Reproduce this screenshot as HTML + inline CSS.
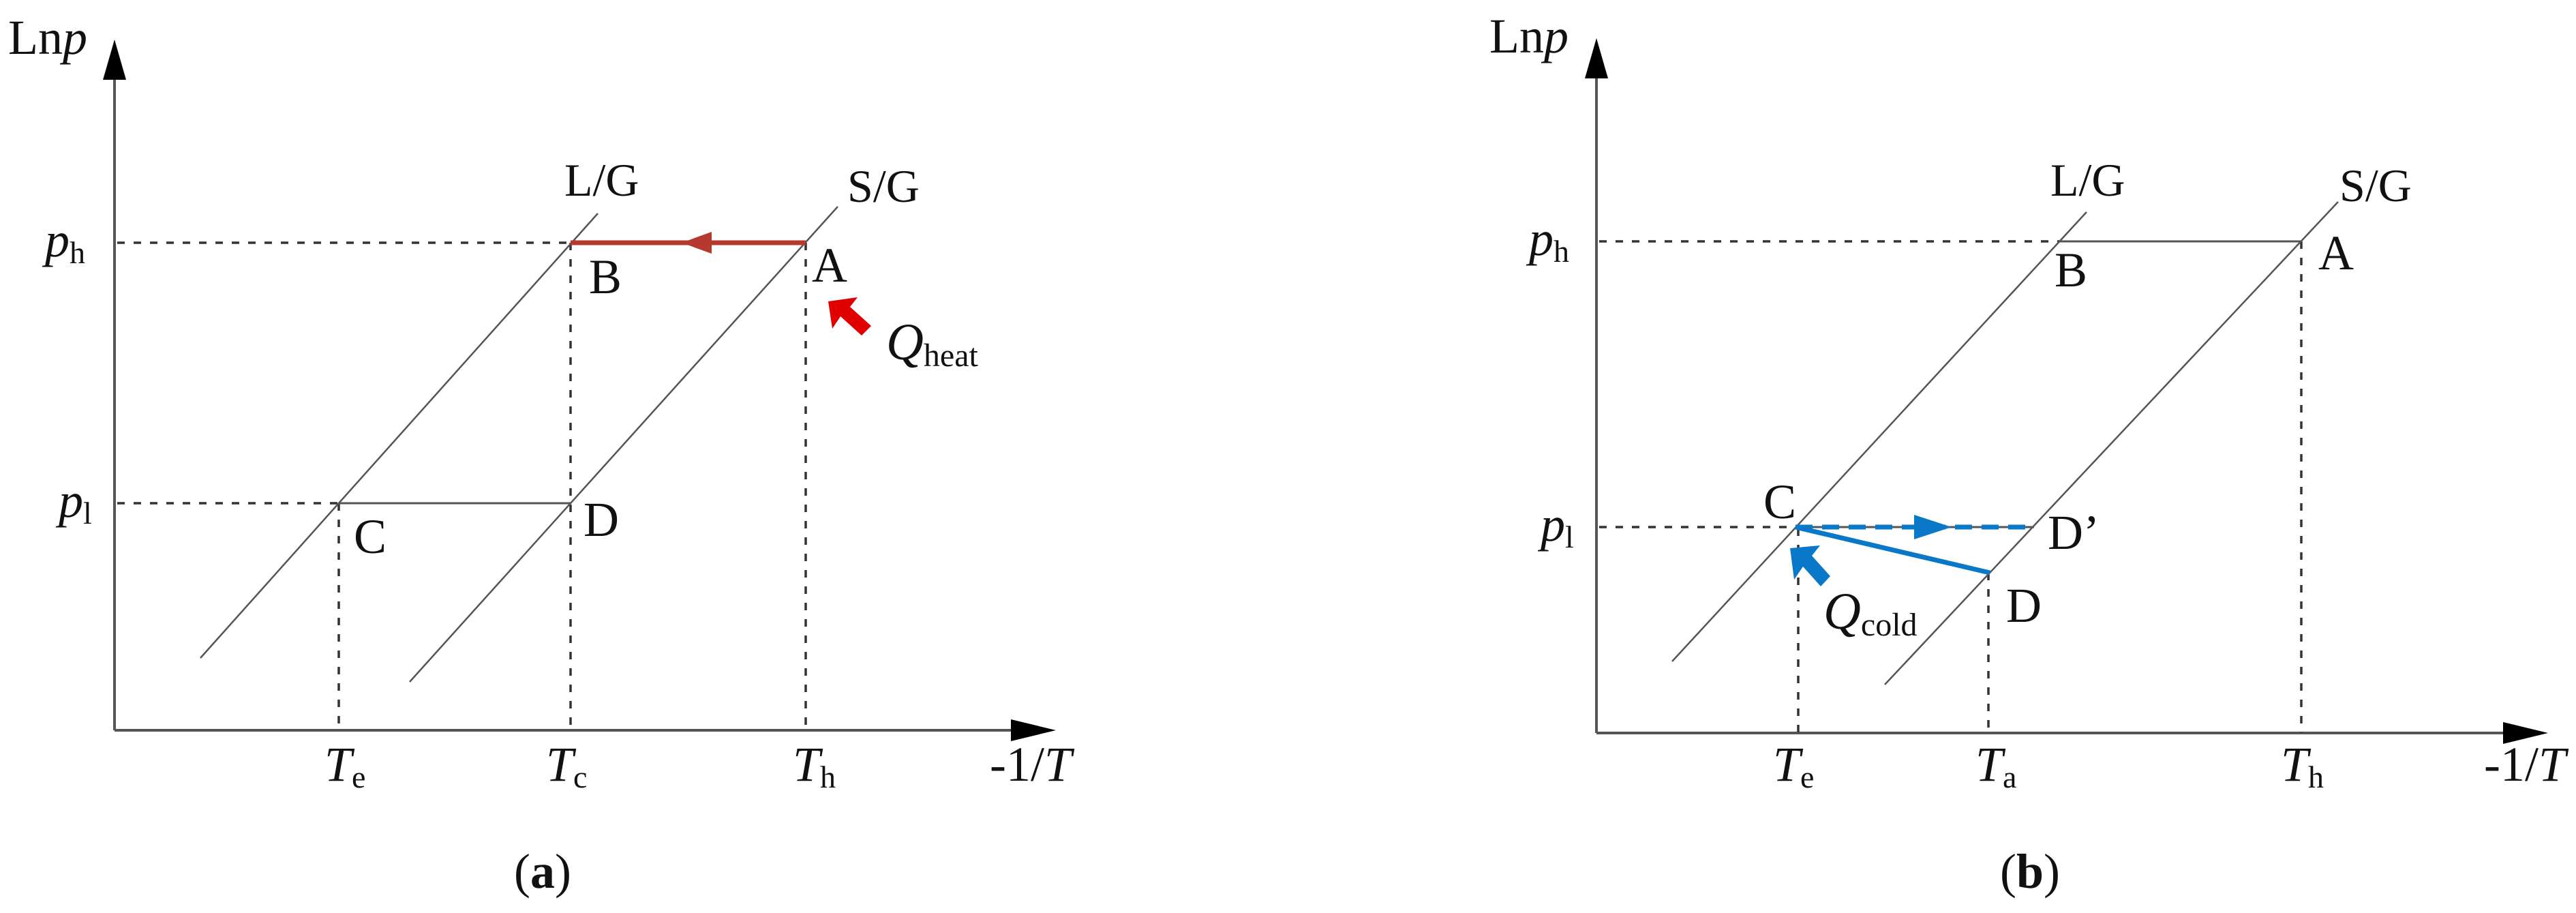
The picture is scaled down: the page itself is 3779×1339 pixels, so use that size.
<!DOCTYPE html>
<html><head><meta charset="utf-8"><style>
html,body{margin:0;padding:0;background:#fff}
svg{display:block}
text{font-family:"Liberation Serif",serif;fill:#111}
</style></head><body>
<svg width="3779" height="1339" viewBox="0 0 3779 1339" xmlns="http://www.w3.org/2000/svg">
<g stroke="#555" fill="none">
<line x1="168" y1="1071" x2="168" y2="110" stroke-width="4"/>
<line x1="168" y1="1071" x2="1490" y2="1071" stroke-width="4"/>
<g stroke-dasharray="11 13" stroke-width="3.5" stroke="#333">
<line x1="172" y1="356" x2="837" y2="356"/>
<line x1="172" y1="738" x2="497" y2="738"/>
<line x1="497" y1="738" x2="497" y2="1071"/>
<line x1="837" y1="356" x2="837" y2="1071"/>
<line x1="1182" y1="356" x2="1182" y2="1071"/>
</g>
<line x1="497" y1="738" x2="837" y2="738" stroke-width="3"/>
<line x1="294" y1="965" x2="877" y2="313" stroke-width="2.5"/>
<line x1="601" y1="1000" x2="1229" y2="303" stroke-width="2.5"/>
<line x1="837" y1="356" x2="1182" y2="356" stroke="#b5392f" stroke-width="7"/>
<line x1="2342" y1="1075" x2="2342" y2="110" stroke-width="4"/>
<line x1="2342" y1="1075" x2="3680" y2="1075" stroke-width="4"/>
<g stroke-dasharray="11 13" stroke-width="3.5" stroke="#333">
<line x1="2346" y1="354" x2="3021" y2="354"/>
<line x1="2346" y1="773" x2="2634" y2="773"/>
<line x1="2638" y1="775" x2="2638" y2="1075"/>
<line x1="2917" y1="840" x2="2917" y2="1075"/>
<line x1="3376" y1="354" x2="3376" y2="1075"/>
</g>
<line x1="3021" y1="354" x2="3376" y2="354" stroke-width="3"/>
<line x1="2634" y1="773" x2="2984" y2="773" stroke-width="3"/>
<line x1="2453" y1="970" x2="3061" y2="311" stroke-width="2.5"/>
<line x1="2765" y1="1004" x2="3430" y2="296" stroke-width="2.5"/>
<line x1="2634" y1="773" x2="2984" y2="773" stroke="#0a78c8" stroke-width="7" stroke-dasharray="25 14"/>
<line x1="2634" y1="773" x2="2919" y2="840" stroke="#0a78c8" stroke-width="7"/>
</g>
<polygon points="168,58 151,117 185,117" fill="#000"/>
<polygon points="1549,1071 1483,1055 1483,1087" fill="#000"/>
<polygon points="2342,56 2325,115 2359,115" fill="#000"/>
<polygon points="3738,1075 3672,1059 3672,1091" fill="#000"/>
<polygon points="1000,356 1044,340 1044,372" fill="#b5392f"/>
<polygon points="2863,773 2808,755 2808,791" fill="#0a78c8"/>
<polygon fill="#e00000" points="1215,442 1258,436 1247,450 1278,478 1264,492 1233,464 1221,482"/>
<polygon fill="#0a78c8" points="2626,804 2670,800 2658,815 2685,845 2671,860 2645,831 2632,850"/>
<text x="12" y="79" font-size="72">Ln<tspan font-style="italic">p</tspan></text>
<text x="66" y="376" font-size="72" font-style="italic">p<tspan font-style="normal" font-size="46" dy="10">h</tspan></text>
<text x="86" y="758" font-size="72" font-style="italic">p<tspan font-style="normal" font-size="46" dy="10">l</tspan></text>
<text x="828" y="287" font-size="68">L/G</text>
<text x="1243" y="296" font-size="68">S/G</text>
<text x="1191" y="413" font-size="72">A</text>
<text x="864" y="430" font-size="72">B</text>
<text x="519" y="811" font-size="72">C</text>
<text x="856" y="786" font-size="72">D</text>
<text x="1300" y="527" font-size="76" font-style="italic">Q<tspan font-style="normal" font-size="48" dy="10">heat</tspan></text>
<text x="476" y="1145" font-size="72" font-style="italic">T<tspan font-style="normal" font-size="46" dy="10">e</tspan></text>
<text x="801" y="1145" font-size="72" font-style="italic">T<tspan font-style="normal" font-size="46" dy="10">c</tspan></text>
<text x="1163" y="1145" font-size="72" font-style="italic">T<tspan font-style="normal" font-size="46" dy="10">h</tspan></text>
<text x="1452" y="1145" font-size="72">-1/<tspan font-style="italic">T</tspan></text>
<text x="754" y="1302" font-size="72">(<tspan font-weight="bold">a</tspan>)</text>
<text x="2185" y="77" font-size="72">Ln<tspan font-style="italic">p</tspan></text>
<text x="2243" y="374" font-size="72" font-style="italic">p<tspan font-style="normal" font-size="46" dy="10">h</tspan></text>
<text x="2260" y="793" font-size="72" font-style="italic">p<tspan font-style="normal" font-size="46" dy="10">l</tspan></text>
<text x="3008" y="287" font-size="68">L/G</text>
<text x="3432" y="295" font-size="68">S/G</text>
<text x="3401" y="395" font-size="72">A</text>
<text x="3014" y="420" font-size="72">B</text>
<text x="2587" y="760" font-size="72">C</text>
<text x="3004" y="805" font-size="72">D’</text>
<text x="2943" y="912" font-size="72">D</text>
<text x="2675" y="922" font-size="76" font-style="italic">Q<tspan font-style="normal" font-size="48" dy="10">cold</tspan></text>
<text x="2601" y="1145" font-size="72" font-style="italic">T<tspan font-style="normal" font-size="46" dy="10">e</tspan></text>
<text x="2898" y="1145" font-size="72" font-style="italic">T<tspan font-style="normal" font-size="46" dy="10">a</tspan></text>
<text x="3346" y="1145" font-size="72" font-style="italic">T<tspan font-style="normal" font-size="46" dy="10">h</tspan></text>
<text x="3644" y="1145" font-size="72">-1/<tspan font-style="italic">T</tspan></text>
<text x="2934" y="1302" font-size="72">(<tspan font-weight="bold">b</tspan>)</text>
</svg>
</body></html>
